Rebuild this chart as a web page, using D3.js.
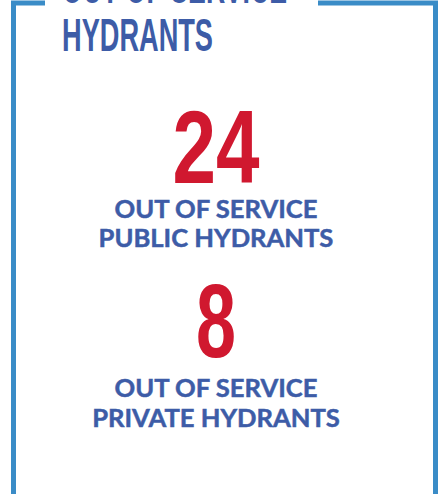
<!DOCTYPE html>
<html><head><meta charset="utf-8">
<script src="https://cdn.jsdelivr.net/npm/d3@7"></script>
<style>html,body{margin:0;padding:0;background:#fff;}svg{display:block;}</style>
</head><body>
<svg id="c" width="438" height="494"></svg>
<script>
const titleLines = ["OUT OF SERVICE", "HYDRANTS"];
const values = [24, 8];
const labelLines = [["OUT OF SERVICE", "PUBLIC HYDRANTS"], ["OUT OF SERVICE", "PRIVATE HYDRANTS"]];

const W = 438, H = 494;
const svg = d3.select("#c");
const blue = "#3d5ca7", red = "#d0182f", border = "#3a8cc7";
const cx = 216;

// frame
const frame = d3.path();
frame.moveTo(45, 3); frame.lineTo(13.5, 3); frame.lineTo(13.5, H + 5);
frame.moveTo(318, 3); frame.lineTo(435.5, 3); frame.lineTo(435.5, H + 5);
svg.append("path").attr("d", frame.toString()).attr("fill", "none")
  .attr("stroke", border).attr("stroke-width", 5);

// title (condensed)
const titleY = [3, 51], titleW = [225, 151];
svg.selectAll("text.title").data(titleLines).join("text")
  .attr("class", "title")
  .attr("x", 62).attr("y", (d, i) => titleY[i])
  .attr("textLength", (d, i) => titleW[i]).attr("lengthAdjust", "spacingAndGlyphs")
  .attr("font-family", "Liberation Sans Narrow, Liberation Sans, Arial, sans-serif")
  .attr("font-weight", 700).attr("font-size", 46)
  .attr("fill", blue).text(d => d);

// numbers
const numY = [183, 357];
const numW = d => String(d).length === 2 ? 87 : 40;
svg.selectAll("text.num").data(values).join("text")
  .attr("class", "num")
  .attr("x", cx).attr("y", (d, i) => numY[i])
  .attr("text-anchor", "middle")
  .attr("textLength", d => numW(d)).attr("lengthAdjust", "spacingAndGlyphs")
  .attr("font-family", "Liberation Sans Narrow, Liberation Sans, Arial, sans-serif")
  .attr("font-weight", 700).attr("font-size", 104)
  .attr("fill", red).text(d => d);

// labels
const labY = [[218, 247], [397, 427]];
labelLines.forEach((lines, i) => {
  svg.selectAll("text.lab" + i).data(lines).join("text")
    .attr("class", "lab" + i)
    .attr("x", cx).attr("y", (d, j) => labY[i][j])
    .attr("text-anchor", "middle")
    .attr("font-family", "Lato, sans-serif")
    .attr("font-weight", 700).attr("font-size", 25.6)
    .attr("fill", blue).attr("stroke", blue).attr("stroke-width", 0.5)
    .text(d => d);
});
</script>
</body></html>
